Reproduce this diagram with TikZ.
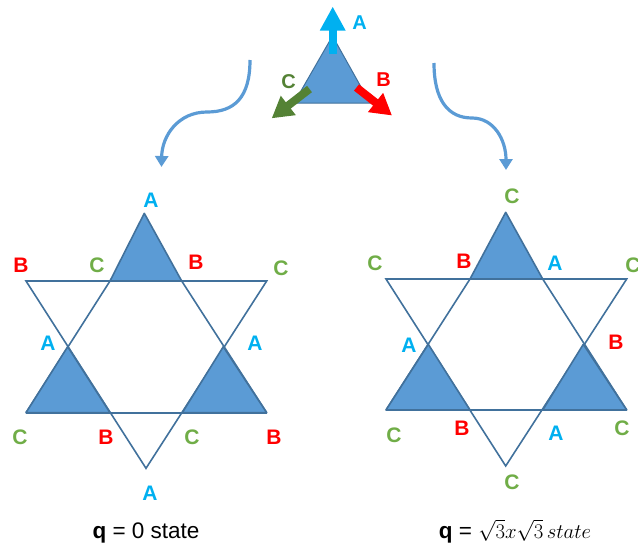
\documentclass[tikz,border=0pt]{standalone}
\usepackage{fontspec}
\setmainfont{Liberation Sans}
\usetikzlibrary{arrows.meta}
\definecolor{cA}{HTML}{00B0F0}
\definecolor{cB}{HTML}{FF0000}
\definecolor{cC}{HTML}{70AD47}
\definecolor{cCdark}{HTML}{548235}
\definecolor{fillblue}{HTML}{5B9BD5}
\definecolor{edgeblue}{HTML}{41719C}
\tikzset{
  lbl/.style={inner sep=0pt, font=\fontsize{21}{24}\selectfont\bfseries},
  tlbl/.style={inner sep=0pt, font=\fontsize{20}{24}\selectfont\bfseries},
  la/.style={lbl, text=cA}, lb/.style={lbl, text=cB}, lc/.style={lbl, text=cC},
  starline/.style={draw=edgeblue, line width=1.6pt, line join=miter},
  startri/.style={draw=edgeblue, fill=fillblue, line width=1.6pt, line join=round},
  blockarrow/.style={line width=8pt},
  curvearrow/.style={draw=fillblue, line width=3.2pt, -{Triangle[width=13pt,length=11pt]}},
  caption/.style={inner sep=0pt, font=\fontsize{22.5}{26}\selectfont, anchor=base}
}
\begin{document}
\begin{tikzpicture}[x=1pt, y=-1pt]
\useasboundingbox (0,0) rectangle (638,546);

% ---------- top triangle with arrows ----------
\coordinate (tT) at (332.5,36);
\coordinate (tL) at (294,103);
\coordinate (tR) at (370,103);
\filldraw[fill=fillblue, draw=edgeblue, line width=1pt] (tT) -- (tL) -- (tR) -- cycle;
\coordinate (aS) at (332.7,54);
\coordinate (aE) at (332.7,6.5);
\coordinate (cS) at (309.5,89);
\coordinate (cE) at (271.7,118.3);
\coordinate (bS) at (356.5,87.5);
\coordinate (bE) at (392,115.5);
\draw[blockarrow, color=cA, -{Triangle[width=24pt,length=24pt]}] (aS) -- (aE);
\draw[blockarrow, color=cCdark, -{Triangle[width=23pt,length=21pt]}] (cS) -- (cE);
\draw[blockarrow, color=cB, -{Triangle[width=23pt,length=21pt]}] (bS) -- (bE);
\node[tlbl, text=cA] (tA) at (359.5,23) {A};
\node[tlbl, text=cB] (tB) at (383.5,80) {B};
\node[tlbl, text=cCdark] (tC) at (288.5,82) {C};

% ---------- curved arrows ----------
\coordinate (lcS) at (250,60);
\coordinate (lcM) at (207,112);
\coordinate (lcE) at (161.5,167);
\draw[curvearrow] (lcS) .. controls (250,98) and (234,112) .. (lcM)
                        .. controls (178,112) and (162,136) .. (lcE);
\coordinate (rcS) at (434,63);
\coordinate (rcM) at (472,118);
\coordinate (rcE) at (506,170);
\draw[curvearrow] (rcS) .. controls (434,100) and (448,118) .. (rcM)
                        .. controls (494,118) and (506,140) .. (rcE);

% ---------- left star ----------
\coordinate (L-ul) at (26,281);
\coordinate (L-ur) at (266.7,281);
\coordinate (L-bot) at (146,468.3);
\coordinate (L-ll) at (26,412.7);
\coordinate (L-lr) at (266.7,412.7);
\coordinate (L-i1) at (110,281);
\coordinate (L-i2) at (181.7,281);
\coordinate (L-top) at (144.3,213.3);
\coordinate (L-ml) at (67.7,346.7);
\coordinate (L-mr) at (223.3,346.7);
\coordinate (L-j1) at (110,412.7);
\coordinate (L-j2) at (182.3,412.7);
\draw[starline] (L-ul) -- (L-ur) -- (L-bot) -- cycle;
\draw[starline] (L-ll) -- (L-lr);
\draw[starline] (L-ll) -- (L-i1);
\draw[starline] (L-lr) -- (L-i2);
\draw[startri] (L-i1) -- (L-top) -- (L-i2) -- cycle;
\draw[startri] (L-ml) -- (L-ll) -- (L-j1) -- cycle;
\draw[startri] (L-mr) -- (L-j2) -- (L-lr) -- cycle;
\node[la] (L1) at (151,200) {A};
\node[lb] (L2) at (21,265) {B};
\node[lc] (L3) at (97,265) {C};
\node[lb] (L4) at (196,262) {B};
\node[lc] (L5) at (281,268) {C};
\node[la] (L6) at (48,343) {A};
\node[la] (L7) at (255,343) {A};
\node[lc] (L8) at (20,437) {C};
\node[lb] (L9) at (106,437) {B};
\node[lc] (L10) at (192,437) {C};
\node[lb] (L11) at (274,437) {B};
\node[la] (L12) at (150,493) {A};

% ---------- right star ----------
\coordinate (R-ul) at (386,279);
\coordinate (R-ur) at (626.7,279);
\coordinate (R-bot) at (505.7,466);
\coordinate (R-ll) at (386,410);
\coordinate (R-lr) at (626.7,410);
\coordinate (R-i1) at (470,279);
\coordinate (R-i2) at (542.7,279);
\coordinate (R-top) at (505.7,212.3);
\coordinate (R-ml) at (428.3,344.3);
\coordinate (R-mr) at (583.3,344.3);
\coordinate (R-j1) at (470,410);
\coordinate (R-j2) at (542.7,410);
\draw[starline] (R-ul) -- (R-ur) -- (R-bot) -- cycle;
\draw[starline] (R-ll) -- (R-lr);
\draw[starline] (R-ll) -- (R-i1);
\draw[starline] (R-lr) -- (R-i2);
\draw[startri] (R-i1) -- (R-top) -- (R-i2) -- cycle;
\draw[startri] (R-ml) -- (R-ll) -- (R-j1) -- cycle;
\draw[startri] (R-mr) -- (R-j2) -- (R-lr) -- cycle;
\node[lc] (R1) at (512,196) {C};
\node[lc] (R2) at (375,263) {C};
\node[lb] (R3) at (464,261) {B};
\node[la] (R4) at (555,263) {A};
\node[lc] (R5) at (633,265) {C};
\node[la] (R6) at (409,345) {A};
\node[lb] (R7) at (616,342) {B};
\node[lc] (R8) at (394,435) {C};
\node[lb] (R9) at (462,428) {B};
\node[la] (R10) at (556,433) {A};
\node[lc] (R11) at (622,428) {C};
\node[lc] (R12) at (512,482) {C};

% ---------- captions ----------
\node[caption] (capL) at (146,538) {\textbf{q} = 0 state};
\node[caption] (capR) at (515,538) {\textbf{q} = $\sqrt{3}x\sqrt{3}\,state$};
\end{tikzpicture}
\end{document}
